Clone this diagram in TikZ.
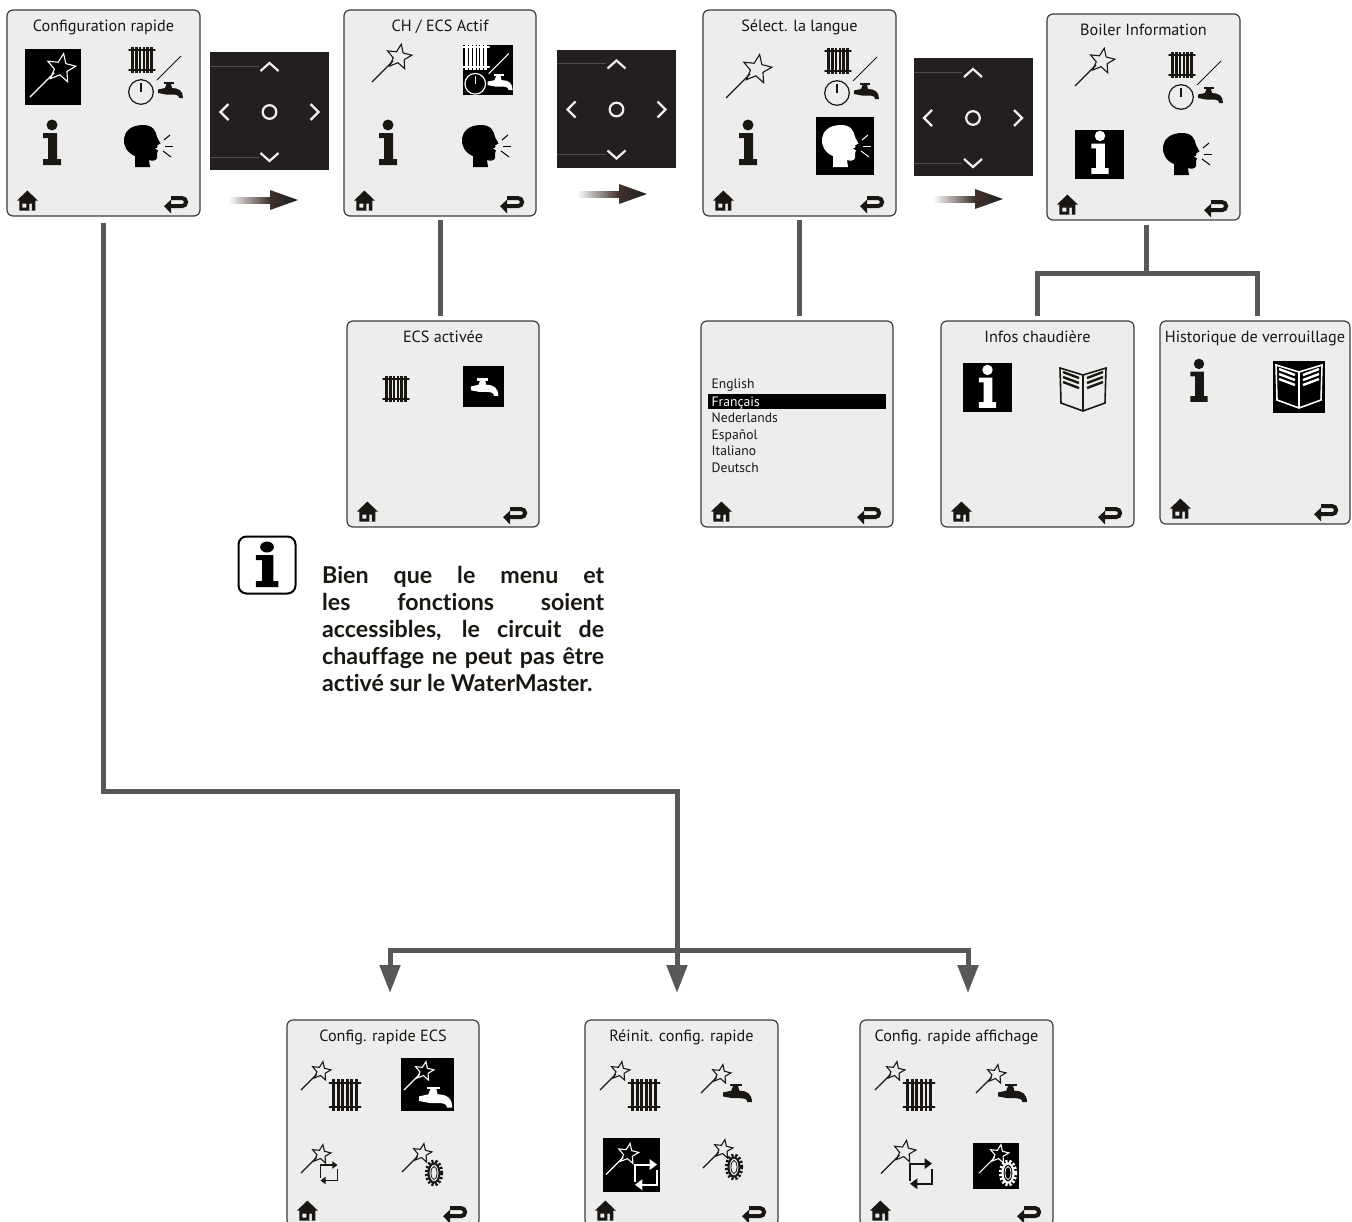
\documentclass[tikz,border=0pt]{standalone}
\usepackage{fontspec}
\setmainfont{PT Sans}
\newfontfamily\notefont{Lato}[Ligatures=NoCommon]
\usetikzlibrary{positioning, calc, arrows.meta}
\definecolor{ink}{HTML}{1A1713}
\definecolor{panel}{HTML}{EDEDED}
\definecolor{edge}{HTML}{3C3C3C}
\definecolor{linkgray}{HTML}{58585A}
\definecolor{padblack}{HTML}{231F20}
\definecolor{padline}{HTML}{4E4B4B}
\definecolor{padmark}{HTML}{F0F0F0}
\definecolor{arrowbrown}{HTML}{3F302A}

\begin{document}
\begin{tikzpicture}[
    x=1pt, y=-1pt,
    % Node styles
    screen/.style={
        rectangle,
        draw=edge,
        fill=panel,
        line width=1.2pt,
        rounded corners=6pt,
        inner sep=0pt
    },
    screen title/.style={
        font=\fontsize{16.2}{19}\selectfont,
        text=ink,
        inner sep=0pt,
        text height=12pt,
        text depth=3pt
    },
    hl box/.style={
        rectangle,
        fill=black,
        inner sep=0pt
    },
    pad/.style={
        rectangle,
        fill=padblack,
        minimum width=119pt,
        minimum height=118pt,
        inner sep=0pt
    },
    lang item/.style={
        font=\fontsize{13.6}{16}\selectfont,
        anchor=west,
        inner sep=0pt,
        text height=10pt,
        text depth=3pt
    },
    link/.style={
        draw=linkgray,
        line width=5pt
    },
    note/.style={
        font=\notefont\bfseries\fontsize{23.2}{27}\selectfont,
        text=ink,
        text width=282pt,
        align=justify,
        inner sep=0pt,
        anchor=north west
    },
    % Icons
    pics/wand/.style={code={
        \draw[#1, line width=1.1pt] (-20,20) -- (1,-1);
        \draw[#1, line width=1.1pt, line join=miter]
            ($(7,-5)+(280:13)$)
            -- ($(7,-5)+(316:5.8)$) -- ($(7,-5)+(352:13)$) -- ($(7,-5)+(28:5.8)$)
            -- ($(7,-5)+(64:13)$) -- ($(7,-5)+(100:5.8)$) -- ($(7,-5)+(136:13)$)
            -- ($(7,-5)+(172:5.8)$) -- ($(7,-5)+(208:13)$) -- ($(7,-5)+(244:5.8)$) -- cycle;
    }},
    pics/radiator/.style={code={
        \foreach \bar in {-9.5,-5.7,-1.9,1.9,5.7,9.5} {
            \draw[#1, line width=2.7pt] (\bar,-13) -- (\bar,13);
        }
        \draw[#1, line width=1.8pt, line cap=round] (-13,-10) -- (13,-10);
        \draw[#1, line width=1.8pt, line cap=round] (-13,10) -- (13,10);
    }},
    pics/tap/.style={code={
        \fill[#1] (-12,-0.5) -- (-5,-2) -- (-3.5,-6) -- (1,-6) -- (2,-2)
            .. controls (9,-2) and (13,1) .. (13,8) -- (9,8)
            .. controls (9,5) and (6,4.5) .. (2,4.5) -- (-4,4.5) -- (-12,3) -- cycle;
        \draw[#1, line width=2.4pt] (-6,-7) -- (4,-7);
    }},
    pics/chdhw/.style={code={
        \pic at (-13,-12) {radiator=#1};
        \draw[#1, line width=1pt] (2,8) -- (26,-16);
        \draw[#1, line width=1.2pt] (-14,20) circle (12.3);
        \draw[#1, line width=1.2pt] (-14,20) -- (-14,11);
        \pic at (15,18) {tap=#1};
    }},
    pics/infoi/.style={code={
        \fill[#1] (0,-18) circle (5.5);
        \fill[#1] (-9,-10) -- (5,-10) -- (5,16) -- (9,16) -- (9,22) -- (-9,22)
            -- (-9,16) -- (-4,16) -- (-4,-5) -- (-9,-5) -- cycle;
    }},
    pics/head/.style={code={
        \fill[#1] (-9,21) -- (-9,10)
            .. controls (-25,4) and (-25,-21) .. (-1,-21)
            .. controls (9,-21) and (12,-15) .. (13,-9)
            -- (16.5,-2.5) -- (13.5,-1) -- (13,2) -- (10,2) -- (14,4.5) -- (13,7) -- (13,12)
            .. controls (12,15) and (8,15) .. (5,14) -- (6,21) -- cycle;
        \draw[#1, line width=1pt] (20,-6) -- (26,-11);
        \draw[#1, line width=1pt] (21,0) -- (29,0);
        \draw[#1, line width=1pt] (19,5) -- (27,11);
    }},
    pics/book/.style={code={
        \draw[#1, line width=1.6pt, line join=miter]
            (-23,-22) -- (0,-15) -- (23,-22) -- (22,13) -- (0,21) -- (-22,13) -- cycle;
        \draw[#1, line width=1.4pt] (0,-15) -- (0,21);
        \foreach \row in {0,5,10} {
            \draw[#1, line width=2.4pt] (-20,-18+\row) -- (-4,-12+\row);
            \draw[#1, line width=2.4pt] (20,-18+\row) -- (4,-12+\row);
        }
    }},
    pics/loop/.style={code={
        \draw[#1, -{Triangle[length=0pt 3.4,width=0pt 4.8]}] (-8.5,5) -- (-8.5,-8) -- (8.5,-8);
        \draw[#1, -{Triangle[length=0pt 3.4,width=0pt 4.8]}] (8.5,-4) -- (8.5,7.5) -- (-8.5,7.5);
    }},
    pics/gear/.style={code={
        \draw[#1, line width=3pt, dash pattern=on 2.2pt off 1.8pt] (0,0) ellipse (7.7 and 12);
        \draw[#1, line width=2pt] (0,0) ellipse (5.5 and 9.5);
        \draw[#1, line width=.8pt] (0,0) ellipse (3 and 6.5);
    }},
    pics/home/.style={code={
        \fill[#1, even odd rule] (0,-10) -- (10.5,0) -- (8,0) -- (8,10) -- (-8,10) -- (-8,0) -- (-10.5,0) -- cycle
            (-5,3) rectangle (-1,7) (2,3) rectangle (4.5,10);
    }},
    pics/return/.style={code={
        \draw[#1, line width=4pt] (-5,-5.5) -- (6,-5.5) arc[start angle=-90, end angle=90, radius=4] -- (-6,2.5);
        \fill[#1] (-12,2.5) -- (-5,-4) -- (-5,10) -- cycle;
    }},
    pics/dpad/.style={code={
        \draw[padline, line width=1pt] (-59.5,-46) -- (-11,-46);
        \draw[padline, line width=1pt] (-59.5,45) -- (-11,45);
        \draw[padmark, line width=2.2pt] (-9,-41) -- (0,-49) -- (9,-41);
        \draw[padmark, line width=2.2pt] (-9,41) -- (0,49) -- (9,41);
        \draw[padmark, line width=2.2pt] (-41,-8) -- (-49,0) -- (-41,8);
        \draw[padmark, line width=2.2pt] (41,-8) -- (49,0) -- (41,8);
        \draw[padmark, line width=2.2pt] (0,0) circle (6.8);
    }},
    pics/flowarrow/.style={code={
        \shade[left color=white, right color=arrowbrown] (0,-3) rectangle (42,3);
        \shade[left color=arrowbrown, right color=padblack] (42,-10) -- (70,0) -- (42,10) -- cycle;
    }}
]

\path[use as bounding box, clip] (0,0) rectangle (1352,1221);

% Screens
\foreach \name/\cx/\cy/\w/\h/\ttl in {
    scrA/103.5/113/193/206/Configuration rapide,
    scrB/440/113/192/206/{CH / ECS Actif},
    scrC/799.5/113/193/206/Sélect. la langue,
    scrD/1143.5/117/193/206/Boiler Information,
    scrE/443/424/192/206/ECS activée,
    scrF/797/424/192/206/{},
    scrG/1037.5/424/193/206/Infos chaudière,
    scrH/1255/422.5/190/203/Historique de verrouillage,
    scrI/383/1123/192/206/Config. rapide ECS,
    scrJ/681.5/1123/193/206/Réinit. config. rapide,
    scrK/956.5/1123/193/206/Config. rapide affichage} {
    \node[screen, minimum width=\w pt, minimum height=\h pt] (\name) at (\cx,\cy) {};
    \node[screen title] (\name-title) at ($(\name.north)+(0,18)$) {\ttl};
    \pic at ($(\name.south west)+(21,-16)$) {home=ink};
    \pic at ($(\name.south east)+(-24.5,-13)$) {return=ink};
}

% Highlighted icon backgrounds
\foreach \name/\cx/\cy/\s in {
    hlA/53/77/56, hlB/488/70/50, hlC/845/146/58, hlD/1099.5/154.5/49,
    hlE/483.5/386.5/41, hlG/987.5/387.5/49, hlH/1299/387/52,
    hlI/427.5/1084.5/53, hlK/996/1166/46} {
    \node[hl box, minimum size=\s pt] (\name) at (\cx,\cy) {};
}
\node[hl box, minimum width=57pt, minimum height=54pt] (hlJ) at (631.5,1165) {};

% Main menu
\pic[scale=1.15] at (53,74) {wand=white};
\pic at (155,72) {chdhw=ink};
\pic at (52,143) {infoi=ink};
\pic at (144,146) {head=black};

% CH / ECS
\pic at (392,62) {wand=ink};
\pic[scale=.84] at (487,67) {chdhw=white};
\pic at (388,143) {infoi=ink};
\pic at (482,146) {head=black};

% Language
\pic[scale=1.15] at (749,75) {wand=ink};
\pic at (851,73) {chdhw=ink};
\pic at (748,143) {infoi=ink};
\pic at (842,146) {head=white};

% Boiler information
\pic at (1095,66) {wand=ink};
\pic at (1195,77) {chdhw=ink};
\pic[scale=.95] at (1100,153) {infoi=white};
\pic at (1183,154) {head=black};

% Second level screens
\pic at (396,389) {radiator=ink};
\pic[scale=1.1] at (484,387) {tap=white};
\pic[scale=.95] at (987.5,387) {infoi=white};
\pic at (1083,390) {book=ink};
\pic[scale=.95] at (1199,381) {infoi=ink};
\pic at (1299,387) {book=white};

% Language list
\node[hl box, minimum width=178pt, minimum height=15pt] (langbar) at (797,401.5) {};
\foreach \lang/\ly/\col in {English/385/ink, Français/403/white, Nederlands/419/ink,
    Español/436/ink, Italiano/452/ink, Deutsch/469/ink} {
    \node[lang item, text=\col] (lang-\ly) at (711.5,\ly) {\lang};
}

% Quick configuration screens
\pic[scale=.75] at (316,1075) {wand=ink};
\pic[scale=1.2] at (345,1095) {radiator=ink};
\pic[scale=.75] at (419,1075) {wand=white};
\pic[scale=1.33] at (435,1097) {tap=white};
\pic[scale=.75] at (316,1158) {wand=ink};
\pic at (329,1173) {loop={ink, line width=1.5pt}};
\pic[scale=.75] at (417,1157) {wand=ink};
\pic at (434,1173) {gear=ink};

\pic[scale=.75] at (615,1075) {wand=ink};
\pic[scale=1.2] at (644,1095) {radiator=ink};
\pic[scale=.75] at (716,1078) {wand=ink};
\pic[scale=1.15] at (737,1093) {tap=ink};
\pic[scale=.82] at (622.5,1158) {wand=white};
\pic[scale=1.3] at (646,1175) {loop={white, line width=2.2pt}};
\pic[scale=.75] at (718,1153) {wand=ink};
\pic at (734,1167) {gear=ink};

\pic[scale=.75] at (890,1075) {wand=ink};
\pic[scale=1.2] at (919,1095) {radiator=ink};
\pic[scale=.75] at (991,1078) {wand=ink};
\pic[scale=1.15] at (1012,1093) {tap=ink};
\pic[scale=.88] at (898.5,1156) {wand=ink};
\pic[scale=1.3] at (921,1174) {loop={ink, line width=2.2pt}};
\pic[scale=.75] at (994,1158) {wand=white};
\pic at (1008,1173) {gear=white};

% Keypads
\foreach \name/\cx/\cy in {padA/269.5/111, padB/616.5/108.5, padC/973/117} {
    \node[pad] (\name) at (\cx,\cy) {};
    \pic at ($(\name.center)+(0,1)$) {dpad};
}

% Arrows between screens
\foreach \x/\y in {228/200, 577/194, 933/199} {
    \pic at (\x,\y) {flowarrow};
}

% Connections
\coordinate (kneeL) at (104,791);
\coordinate (kneeR) at (677,791);
\coordinate (busL) at (390,950);
\coordinate (busR) at (968,950);
\coordinate (tipL) at (390,993);
\coordinate (tipM) at (677,993);
\coordinate (tipR) at (968,993);
\coordinate (branch) at (1146,273);

\draw[link, shorten <=6pt, -{Triangle[length=28pt,width=20pt]}] (scrA.south) -- (scrA.south |- kneeL) -- (kneeR) -- (tipM);
\draw[link, {Triangle[length=28pt,width=20pt]}-{Triangle[length=28pt,width=20pt]}] (tipL) -- (busL) -- (busR) -- (tipR);
\draw[link, shorten <=3pt, shorten >=4pt] (scrB.south) -- (scrB.south |- scrE.north);
\draw[link, shorten <=3pt, shorten >=4pt] (scrC.south) -- (scrC.south |- scrF.north);
\draw[link, shorten <=4pt] ($(scrD.south)+(2.5,0)$) -- (branch);
\draw[link, shorten <=4pt, shorten >=4pt] (scrG.north) |- (branch) -| ($(scrH.north)+(2,0)$);

% Note
\node[rectangle, draw=black, line width=2pt, rounded corners=8pt, minimum width=57pt, minimum height=57pt, inner sep=0pt] (callout) at (267,565) {};
\pic[xscale=1.25] at (callout.center) {infoi=black};
\node[note] (noteText) at (322,566.5) {Bien que le menu et\linebreak les fonctions soient\linebreak accessibles, le circuit de\linebreak chauffage ne peut pas être\linebreak activé sur le WaterMaster.};

\end{tikzpicture}
\end{document}
